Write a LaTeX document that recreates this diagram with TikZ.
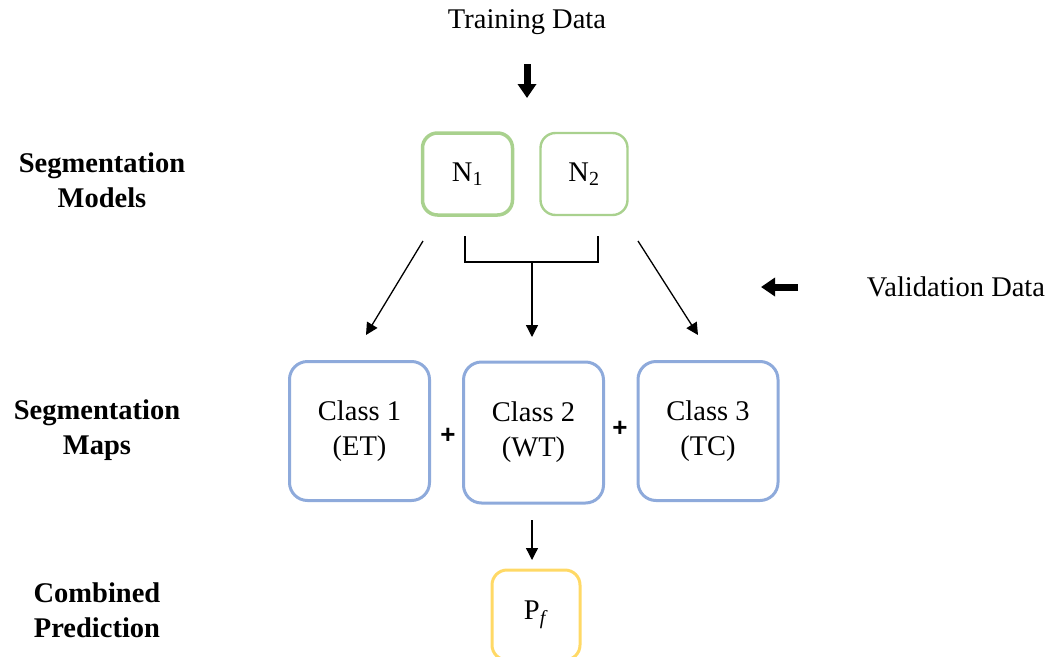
\documentclass[tikz,border=0pt]{standalone}
\usepackage{fontspec}
\setmainfont{Liberation Serif}
\newfontfamily\plusfont{Liberation Sans}
\usepackage{xcolor}
\usetikzlibrary{arrows.meta,positioning}
\definecolor{netgreen}{HTML}{A9D18E}
\definecolor{mapblue}{HTML}{8EAADB}
\definecolor{predgold}{HTML}{FFD966}

\begin{document}
\begin{tikzpicture}[x=1pt,y=-1pt,>=Stealth,
  every node/.style={font=\fontsize{28.5}{35}\selectfont},
  lbl/.style={align=center,font=\fontsize{28.5}{35}\selectfont\bfseries},
  netbox/.style={draw=netgreen,rounded corners=15pt,minimum height=82pt,inner sep=0pt},
  mapbox/.style={draw=mapblue,line width=3pt,rounded corners=18pt,minimum width=140pt,minimum height=139pt,align=center,inner sep=0pt},
  predbox/.style={draw=predgold,line width=3pt,rounded corners=15pt,minimum width=88pt,minimum height=90pt,inner sep=0pt},
  plus/.style={font=\fontsize{26}{26}\selectfont\plusfont\bfseries},
  flow/.style={line width=1.3pt,-{Triangle[width=12pt,length=12pt]}},
  bigarrow/.style={line width=7pt,-{Triangle[width=18pt,length=14pt]}}]
\useasboundingbox(0,0) rectangle (1052,656);

% inputs
\node (train) at (527,22) {Training Data};
\node (valid) at (956,287) {Validation Data};
\coordinate (trainA) at (527,64);
\coordinate (trainB) at (527,98);
\draw[bigarrow](trainA)--(trainB);
\coordinate (validA) at (798,287);
\coordinate (validB) at (761,287);
\draw[bigarrow](validA)--(validB);

% row labels
\node[lbl] (models) at (102,180) {Segmentation\\Models};
\node[lbl] (maps) at (97,430) {Segmentation\\Maps};
\node[lbl] (comb) at (97,610) {Combined\\Prediction};

% networks
\node[netbox,line width=3.5pt,minimum width=90pt] (n1) at (467.5,174) {N\textsubscript{1}};
\node[netbox,line width=2.4pt,minimum width=87pt] (n2) at (584,174) {N\textsubscript{2}};

% maps
\node[mapbox] (c1) at (359.5,431) {Class 1\\(ET)};
\node[mapbox,minimum height=141pt] (c2) at (533.5,432.5) {Class 2\\(WT)};
\node[mapbox] (c3) at (708,431) {Class 3\\(TC)};
\node[plus] (p1) at (448,436) {+};
\node[plus] (p2) at (620,429) {+};

% prediction
\node[predbox] (pf) at (536,615) {P\textsubscript{\textit{f}}};

% connectors
\coordinate (lA) at (423,241);
\coordinate (lB) at (366,335);
\draw[flow](lA)--(lB);
\coordinate (rA) at (638,241);
\coordinate (rB) at (698,335);
\draw[flow](rA)--(rB);
\coordinate (bl) at (465,236);
\coordinate (br) at (598,236);
\coordinate (bm) at (532,262);
\coordinate (bmB) at (532,337);
\draw[line width=1.3pt](bl)|-(bm)-|(br);
\draw[flow](bm)--(bmB);
\coordinate (dA) at (532,520);
\coordinate (dB) at (532,560);
\draw[flow](dA)--(dB);
\end{tikzpicture}
\end{document}
